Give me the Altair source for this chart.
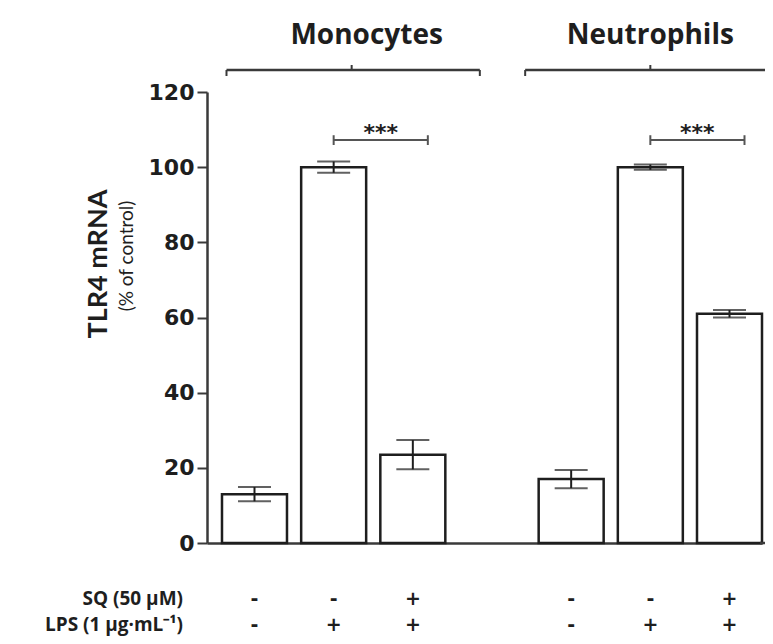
import altair as alt
import pandas as pd

# ---------------- data ----------------
slots = ["Mono_ctrl", "Mono_LPS", "Mono_LPS_SQ", "gap", "Neut_ctrl", "Neut_LPS", "Neut_LPS_SQ"]
bar_slots = ["Mono_ctrl", "Mono_LPS", "Mono_LPS_SQ", "Neut_ctrl", "Neut_LPS", "Neut_LPS_SQ"]
groups = ["Monocytes", "Monocytes", "Monocytes", "Neutrophils", "Neutrophils", "Neutrophils"]
sq_signs = ["-", "-", "+", "-", "-", "+"]
lps_signs = ["-", "+", "+", "-", "+", "+"]
means = [13.0, 100.0, 23.5, 17.0, 100.0, 61.0]
errors = [1.9, 1.5, 3.9, 2.4, 0.7, 1.0]
y_ticks = [0, 20, 40, 60, 80, 100, 120]
sig_from = ["Mono_LPS", "Neut_LPS"]
sig_to = ["Mono_LPS_SQ", "Neut_LPS_SQ"]
sig_level = 107.2
sig_label = "***"
row_labels = ["SQ  (50 µM)", "LPS (1 µg·mL⁻¹)"]
y_title = "TLR4 mRNA"
y_subtitle = "(% of control)"

W, H = 555, 451
INK = "#1e1e1e"
LINE = "#3a3a3a"
HFONT = "Open Sans"

df = pd.DataFrame({
    "slot": bar_slots, "group": groups, "sq": sq_signs, "lps": lps_signs,
    "mean": means, "err": errors,
})
df["lo"] = df["mean"] - df["err"]
df["hi"] = df["mean"] + df["err"]

xscale = alt.Scale(domain=slots, paddingInner=0.179, paddingOuter=0.0947, align=1)
yscale = alt.Scale(domain=[0, 120], nice=False, zero=True)

X = alt.X("slot:N", scale=xscale,
          axis=alt.Axis(labels=False, ticks=False, title=None, grid=False,
                        domainWidth=2.5, domainColor=LINE))
Y = alt.Y("mean:Q", scale=yscale,
          axis=alt.Axis(values=y_ticks, title=None, grid=False,
                        labelFont="DejaVu Sans", labelFontWeight="bold",
                        labelFontSize=22, labelColor=INK, labelPadding=3,
                        tickSize=10, tickWidth=2, tickColor=LINE,
                        domainWidth=2.5, domainColor=LINE))

base = alt.Chart(df)

bars = base.mark_bar(fill="white", stroke=INK, strokeWidth=2.5).encode(x=X, y=Y)
err_line = base.mark_rule(color=INK, strokeWidth=2).encode(
    x=alt.X("slot:N", scale=xscale), y=alt.Y("lo:Q", scale=yscale), y2="hi:Q")
cap_lo = base.mark_tick(color=INK, size=33, thickness=2).encode(
    x=alt.X("slot:N", scale=xscale), y=alt.Y("lo:Q", scale=yscale))
cap_hi = base.mark_tick(color=INK, size=33, thickness=2).encode(
    x=alt.X("slot:N", scale=xscale), y=alt.Y("hi:Q", scale=yscale))

# baseline continuing to the right edge
base_ext = alt.Chart(pd.DataFrame({"z": [0]})).mark_rule(color=LINE, strokeWidth=2.5).encode(
    x=alt.value(W - 2), x2=alt.value(W + 6), y=alt.Y("z:Q", scale=yscale))

# significance brackets
sig_df = pd.DataFrame({"a": sig_from, "b": sig_to, "lvl": [sig_level] * 2, "txt": [sig_label] * 2})
sig_df["t0"] = sig_df["lvl"] - 1.3
sig_df["t1"] = sig_df["lvl"] + 1.3
sig = alt.Chart(sig_df)
sig_line = sig.mark_rule(color="#555", strokeWidth=2, x2Offset=15).encode(
    x=alt.X("a:N", scale=xscale), x2="b:N", y=alt.Y("lvl:Q", scale=yscale))
sig_end_a = sig.mark_rule(color="#555", strokeWidth=2).encode(
    x=alt.X("a:N", scale=xscale), y=alt.Y("t0:Q", scale=yscale), y2="t1:Q")
sig_end_b = sig.mark_rule(color="#555", strokeWidth=2, xOffset=15).encode(
    x=alt.X("b:N", scale=xscale), y=alt.Y("t0:Q", scale=yscale), y2="t1:Q")
sig_txt = sig.mark_text(font="DejaVu Sans", fontWeight="bold", fontSize=22, color=INK,
                        dx=47, dy=0, baseline="alphabetic").encode(
    x=alt.X("a:N", scale=xscale), y=alt.Y("lvl:Q", scale=yscale), text="txt:N")


def group_bracket(name, first, mid, last, off_start, off_mid, off_end, off_title):
    g = alt.Chart(pd.DataFrame({"name": [name], "f": [first], "m": [mid], "l": [last]}))
    by = -22
    line = g.mark_rule(color=LINE, strokeWidth=2.5, xOffset=off_start, x2Offset=off_end).encode(
        x=alt.X("f:N", scale=xscale), x2="l:N", y=alt.value(by))
    e1 = g.mark_rule(color=LINE, strokeWidth=2, xOffset=off_start).encode(
        x=alt.X("f:N", scale=xscale), y=alt.value(by), y2=alt.value(by + 6))
    e2 = g.mark_rule(color=LINE, strokeWidth=2, xOffset=off_end).encode(
        x=alt.X("l:N", scale=xscale), y=alt.value(by), y2=alt.value(by + 6))
    c = g.mark_rule(color=LINE, strokeWidth=2, xOffset=off_mid).encode(
        x=alt.X("m:N", scale=xscale), y=alt.value(by - 5), y2=alt.value(by))
    t = g.mark_text(font=HFONT, fontWeight="bold", fontSize=28, color=INK,
                    dx=off_title, baseline="middle").encode(
        x=alt.X("m:N", scale=xscale), y=alt.value(-56), text="name:N")
    return [line, e1, e2, c, t]


brackets = (group_bracket("Monocytes", "Mono_ctrl", "Mono_LPS", "Mono_LPS_SQ", -28, 18, 67, 33)
            + group_bracket("Neutrophils", "Neut_ctrl", "Neut_LPS", "Neut_LPS_SQ", -46, 0, 70, 0))

ROW_SQ, ROW_LPS = 507, 533

# treatment rows under the axis
sq_row = base.mark_text(font="DejaVu Sans", fontWeight="bold", fontSize=19, color=INK,
                        baseline="middle").encode(
    x=alt.X("slot:N", scale=xscale), y=alt.value(ROW_SQ), text="sq:N")
lps_row = base.mark_text(font="DejaVu Sans", fontWeight="bold", fontSize=19, color=INK,
                         baseline="middle").encode(
    x=alt.X("slot:N", scale=xscale), y=alt.value(ROW_LPS), text="lps:N")

lab_df = pd.DataFrame({"lab": row_labels, "row": ["sq", "lps"]})
row_sq = alt.Chart(lab_df[lab_df.row == "sq"]).mark_text(
    font=HFONT, fontWeight="bold", fontSize=19, color=INK, align="right", baseline="middle").encode(
    x=alt.value(-24), y=alt.value(ROW_SQ), text="lab:N")
row_lps = alt.Chart(lab_df[lab_df.row == "lps"]).mark_text(
    font=HFONT, fontWeight="bold", fontSize=19, color=INK, align="right", baseline="middle").encode(
    x=alt.value(-24), y=alt.value(ROW_LPS), text="lab:N")

ttl_df = pd.DataFrame({"t": [y_title], "s": [y_subtitle]})
ttl = alt.Chart(ttl_df).mark_text(font="Lato", fontWeight="bold", fontSize=27, color=INK,
                                  angle=270, baseline="middle").encode(
    x=alt.value(-108), y=alt.value(172), text="t:N")
sub = alt.Chart(ttl_df).mark_text(font="Lato", fontSize=19, color=INK,
                                  angle=270, baseline="middle").encode(
    x=alt.value(-80), y=alt.value(164), text="s:N")

chart = alt.layer(
    bars, err_line, cap_lo, cap_hi, base_ext,
    sig_line, sig_end_a, sig_end_b, sig_txt,
    *brackets, sq_row, lps_row, row_sq, row_lps, ttl, sub,
).properties(
    width=W, height=H,
    autosize=alt.AutoSizeParams(type="none"),
    padding={"left": 199, "top": 84, "right": 3, "bottom": 93},
    background="white",
).configure_view(stroke=None)

chart.save("out.html", embed_options={"renderer": "svg", "actions": False})
